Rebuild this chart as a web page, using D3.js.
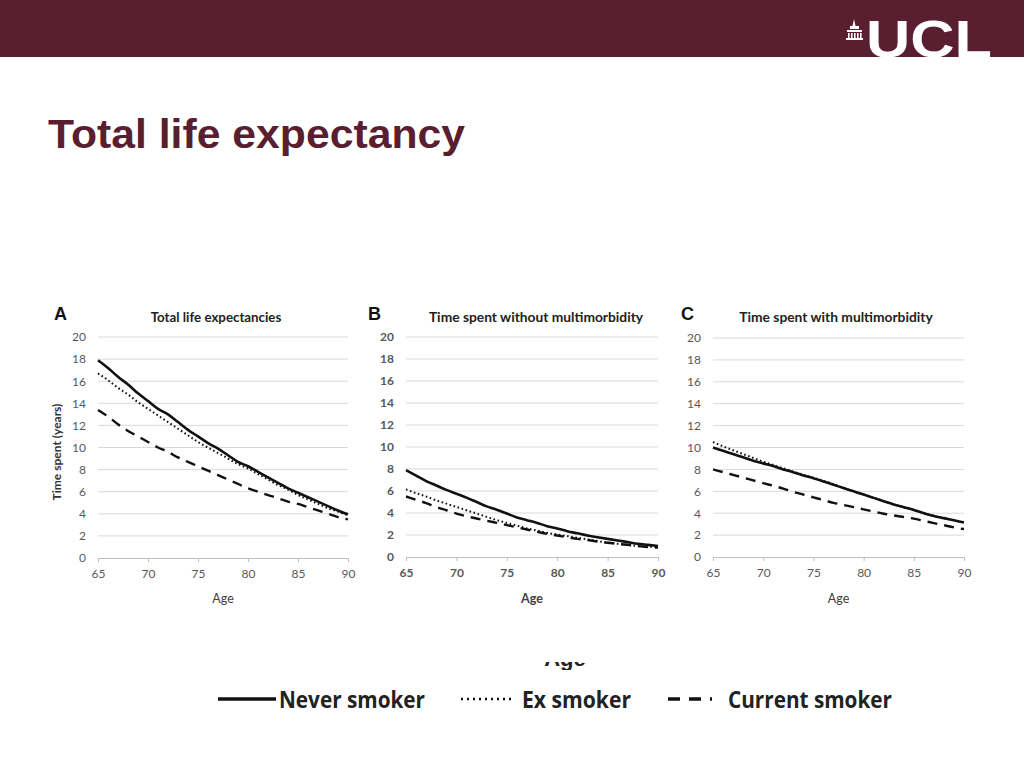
<!DOCTYPE html>
<html><head><meta charset="utf-8">
<script src="https://cdn.jsdelivr.net/npm/d3@7"></script>
<style>body{margin:0;background:#fff;}svg{display:block;}</style>
</head><body>
<svg id="c" width="1024" height="768"></svg>
<script>
const ages = d3.range(65, 91);
const xTicks = [65, 70, 75, 80, 85, 90];
const yTicks = [0, 2, 4, 6, 8, 10, 12, 14, 16, 18, 20];
const seriesNames = ["Never smoker", "Ex smoker", "Current smoker"];
const panelLetters = ["A", "B", "C"];
const panelTitles = ["Total life expectancies", "Time spent without multimorbidity", "Time spent with multimorbidity"];

// Panel A: total life expectancy
const aNever = [17.9,17.2,16.4,15.7,14.9,14.2,13.5,13.0,12.3,11.6,11.0,10.4,9.9,9.3,8.7,8.3,7.8,7.3,6.8,6.3,5.9,5.5,5.1,4.7,4.3,3.95];
const aEx = [16.7,16.1,15.4,14.8,14.1,13.5,12.9,12.3,11.7,11.1,10.5,10.0,9.5,9.0,8.5,8.1,7.6,7.1,6.6,6.2,5.7,5.3,4.9,4.5,4.2,3.85];
const aCurrent = [13.4,12.8,12.1,11.5,11.0,10.5,10.0,9.6,9.1,8.7,8.3,7.9,7.5,7.1,6.7,6.3,6.0,5.7,5.4,5.1,4.9,4.6,4.3,4.0,3.7,3.5];
// Panel B: without multimorbidity
const bNever = [7.9,7.4,6.9,6.5,6.1,5.75,5.4,5.0,4.6,4.3,3.95,3.6,3.35,3.1,2.8,2.6,2.35,2.15,1.95,1.8,1.65,1.5,1.35,1.2,1.1,1.0];
const bEx = [6.15,5.8,5.5,5.15,4.85,4.55,4.25,3.95,3.65,3.35,3.1,2.85,2.6,2.4,2.2,2.05,1.9,1.75,1.6,1.45,1.3,1.2,1.1,1.0,0.95,0.9];
const bCurrent = [5.5,5.2,4.9,4.55,4.25,3.95,3.7,3.5,3.3,3.1,2.9,2.7,2.5,2.3,2.1,1.95,1.8,1.65,1.55,1.4,1.3,1.2,1.1,1.0,0.9,0.85];
// Panel C: with multimorbidity
const cNever = [10.0,9.7,9.4,9.1,8.8,8.55,8.3,8.0,7.75,7.45,7.2,6.9,6.6,6.3,6.0,5.7,5.4,5.1,4.8,4.55,4.3,4.0,3.75,3.55,3.35,3.15];
const cEx = [10.5,10.1,9.75,9.4,9.05,8.7,8.4,8.1,7.8,7.5,7.25,6.95,6.65,6.3,6.0,5.7,5.4,5.1,4.8,4.55,4.3,4.0,3.75,3.55,3.35,3.15];
const cCurrent = [8.0,7.75,7.5,7.25,7.0,6.75,6.5,6.25,5.95,5.7,5.45,5.2,4.95,4.75,4.55,4.35,4.15,3.95,3.8,3.65,3.5,3.3,3.1,2.9,2.7,2.55];

const panelData = [[aNever, aEx, aCurrent],[bNever, bEx, bCurrent],[cNever, cEx, cCurrent]];

const svg = d3.select("#c");
const maroon = "#5a1e31";

// header band
svg.append("rect").attr("x",0).attr("y",0).attr("width",1024).attr("height",57).attr("fill",maroon);
// UCL logo
const logo = svg.append("g");
logo.append("text").attr("x",866).attr("y",57).attr("fill","#fff")
  .attr("font-family","Liberation Sans, Arial, sans-serif").attr("font-weight","bold")
  .attr("font-size",52).attr("textLength",126).attr("lengthAdjust","spacingAndGlyphs").text("UCL");
const ic = logo.append("g").attr("fill","#fff");
ic.append("path").attr("d","M854,19 L855.5,26 L852.5,26 Z");
ic.append("rect").attr("x",850).attr("y",26).attr("width",9).attr("height",3);
ic.append("rect").attr("x",847).attr("y",30).attr("width",15).attr("height",2);
for (let i=0;i<5;i++) ic.append("rect").attr("x",848+i*3).attr("y",33).attr("width",1.6).attr("height",5);
ic.append("rect").attr("x",846).attr("y",38).attr("width",17).attr("height",2);

// slide title
svg.append("text").attr("x",48).attr("y",148).attr("fill",maroon)
  .attr("font-family","Liberation Sans, Arial, sans-serif").attr("font-weight","bold")
  .attr("font-size",40).attr("textLength",417).attr("lengthAdjust","spacingAndGlyphs").text("Total life expectancy");

const panels = [
  {x0:98, x1:348, y0:558, y1:337, letterX:54, titleX:216, tsize:13.3},
  {x0:406, x1:658, y0:557, y1:337, letterX:368, titleX:536, tsize:13.8},
  {x0:713, x1:964, y0:557, y1:338, letterX:681, titleX:836, tsize:13.8}
];
const styles = [
  {w:2.6, dash:null},
  {w:2.0, dash:"1.6,2.6"},
  {w:2.4, dash:"10,7"}
];
const font = "Lato, 'Open Sans', sans-serif";

panels.forEach((p, pi) => {
  const x = d3.scaleLinear().domain([65,90]).range([p.x0, p.x1]);
  const y = d3.scaleLinear().domain([0,20]).range([p.y0, p.y1]);
  const g = svg.append("g");
  g.selectAll(".grid").data(yTicks.filter(t=>t>0)).enter().append("line")
    .attr("x1",p.x0).attr("x2",p.x1).attr("y1",d=>y(d)).attr("y2",d=>y(d))
    .attr("stroke","#d9d9d9").attr("stroke-width",1);
  const ya = d3.axisLeft(y).tickValues(yTicks).tickSize(0).tickPadding(12);
  const yg = g.append("g").attr("transform",`translate(${p.x0},0)`).call(ya);
  yg.select(".domain").remove();
  yg.selectAll("text").attr("font-family",font).attr("font-size",12).attr("font-weight", pi===1?"bold":"normal").attr("fill","#595959");
  const xa = d3.axisBottom(x).tickValues(xTicks).tickSize(4).tickPadding(7);
  const xg = g.append("g").attr("transform",`translate(0,${p.y0})`).call(xa);
  xg.select(".domain").attr("stroke","#bfbfbf");
  xg.selectAll(".tick line").attr("stroke","#bfbfbf");
  xg.selectAll("text").attr("font-family",font).attr("font-size",12).attr("font-weight", pi===1?"bold":"normal").attr("fill","#595959");
  g.append("text").attr("x",(p.x0+p.x1)/2).attr("y",603).attr("text-anchor","middle")
    .attr("font-family",font).attr("font-size",12.5).attr("font-weight", pi===1?"bold":"normal").attr("fill", "#404040").text("Age");
  if (pi===0) {
    g.append("text").attr("transform","translate(61,452) rotate(-90)").attr("text-anchor","middle")
      .attr("font-family",font).attr("font-size",12).attr("font-weight","bold").attr("fill","#333").text("Time spent (years)");
  }
  g.append("text").attr("x",p.letterX).attr("y",320).attr("font-family","Liberation Sans, Arial, sans-serif")
    .attr("font-weight","bold").attr("font-size",18).attr("fill","#111").text(panelLetters[pi]);
  g.append("text").attr("x",p.titleX).attr("y",322).attr("text-anchor","middle").attr("font-family",font)
    .attr("font-weight","bold").attr("font-size",p.tsize).attr("fill","#222").text(panelTitles[pi]);
  const line = d3.line().x((d,i)=>x(ages[i])).y(d=>y(d)).curve(d3.curveMonotoneX);
  [2,1,0].forEach(si => {
    const s = styles[si];
    const path = g.append("path").datum(panelData[pi][si]).attr("d",line)
      .attr("fill","none").attr("stroke","#111").attr("stroke-width",s.w).attr("stroke-linecap","butt");
    if (s.dash) path.attr("stroke-dasharray",s.dash);
  });
});

// clipped fragment of a cut-off label
svg.append("clipPath").attr("id","fr").append("rect").attr("x",530).attr("y",662).attr("width",70).attr("height",8);
svg.append("text").attr("x",565).attr("y",666).attr("text-anchor","middle").attr("clip-path","url(#fr)")
  .attr("font-family","'Liberation Sans Narrow', sans-serif").attr("font-weight","bold").attr("font-size",22).attr("fill","#222").text("Age");

// legend
const legItems = [
  {lx0:218, lx1:276, tx:279, tw:146},
  {lx0:461, lx1:515, tx:522, tw:109},
  {lx0:668, lx1:712, tx:728, tw:164}
];
const legStyles = [
  {w:3.5, dash:null},
  {w:2.5, dash:"2,4"},
  {w:3.5, dash:"12,9"}
];
legItems.forEach((l, i) => {
  const ln = svg.append("line").attr("x1",l.lx0).attr("x2",l.lx1).attr("y1",699).attr("y2",699)
    .attr("stroke","#111").attr("stroke-width",legStyles[i].w);
  if (legStyles[i].dash) ln.attr("stroke-dasharray",legStyles[i].dash);
  svg.append("text").attr("x",l.tx).attr("y",708).attr("font-family","'Liberation Sans Narrow', 'Open Sans', sans-serif")
    .attr("font-weight","bold").attr("font-size",24).attr("fill","#222")
    .attr("textLength",l.tw).attr("lengthAdjust","spacingAndGlyphs").text(seriesNames[i]);
});
</script>
</body></html>
